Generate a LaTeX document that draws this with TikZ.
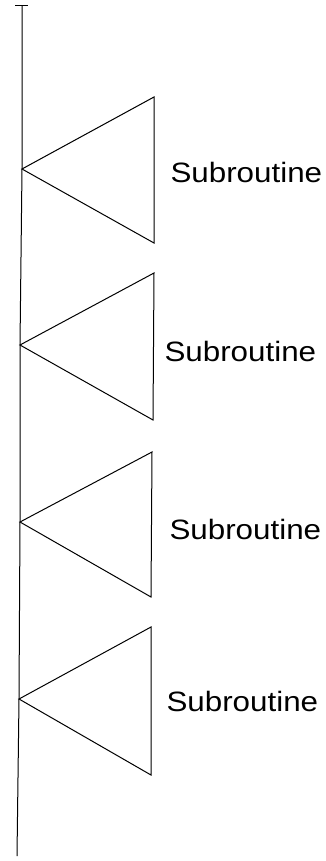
\documentclass[tikz,border=0pt]{standalone}
\usepackage{fontspec}
\setmainfont{Liberation Sans}
\begin{document}
\begin{tikzpicture}[x=1pt,y=-1pt,line width=1pt,
  tri/.style={draw=black,line join=miter},
  lbl/.style={anchor=west,inner sep=0pt,font=\fontsize{28}{30}\selectfont}]
\useasboundingbox (0,0) rectangle (326,861);
% spine
\coordinate (top) at (22,6);
\coordinate (tl) at (15,6);
\coordinate (tr) at (28,6);
\coordinate (bot) at (17,856);
\coordinate (a1) at (22,169);
\coordinate (a2) at (20,345);
\coordinate (a3) at (20,522);
\coordinate (a4) at (19,699);
\draw (tl) -- (tr);
\draw (top) -- (a1) -- (a2) -- (a3) -- (a4) -- (bot);
% triangles
\coordinate (t1) at (154,97);  \coordinate (b1) at (154,243);
\coordinate (t2) at (154,273); \coordinate (b2) at (153,420);
\coordinate (t3) at (152,452); \coordinate (b3) at (151,597);
\coordinate (t4) at (151,627); \coordinate (b4) at (151,775);
\draw[tri] (a1) -- (t1) -- (b1) -- cycle;
\draw[tri] (a2) -- (t2) -- (b2) -- cycle;
\draw[tri] (a3) -- (t3) -- (b3) -- cycle;
\draw[tri] (a4) -- (t4) -- (b4) -- cycle;
% labels
\node[lbl] (s1) at (170,172) {\scalebox{1.12}[1]{Subroutine}};
\node[lbl] (s2) at (164,351) {\scalebox{1.12}[1]{Subroutine}};
\node[lbl] (s3) at (169,529) {\scalebox{1.12}[1]{Subroutine}};
\node[lbl] (s4) at (166,701) {\scalebox{1.12}[1]{Subroutine}};
\end{tikzpicture}
\end{document}
